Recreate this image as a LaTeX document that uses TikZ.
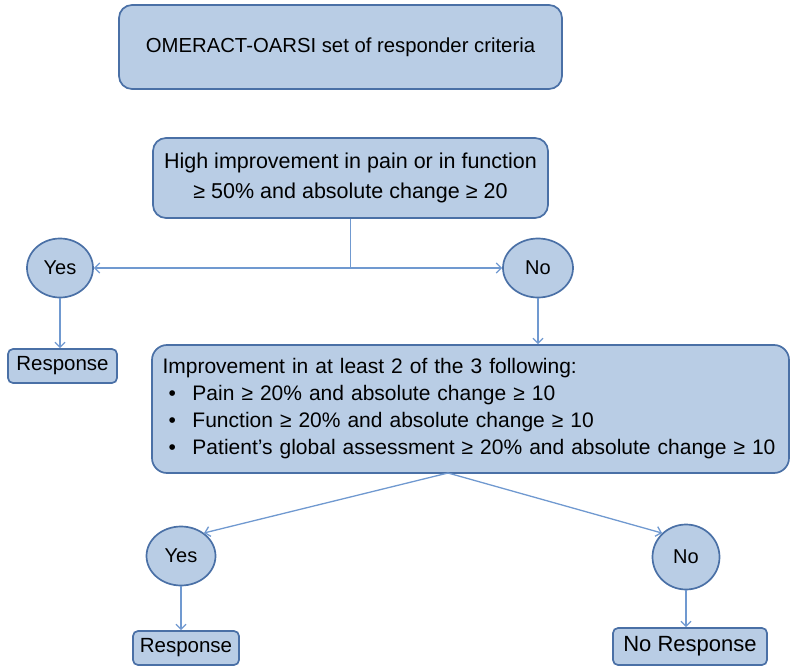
\documentclass[tikz,border=0pt]{standalone}
\usepackage{fontspec}
\setmainfont{Liberation Sans}
\usepackage{xcolor}
\usepackage{tikz}
\usetikzlibrary{arrows.meta,positioning,shapes.geometric,calc}
\definecolor{boxfill}{RGB}{185,205,229}
\definecolor{boxline}{RGB}{74,112,166}
\definecolor{arrline}{RGB}{112,153,208}
\newcommand{\bul}{\makebox[30pt][l]{\hspace{6pt}\textbullet}}

\begin{document}
\begin{tikzpicture}[x=1pt,y=-1pt,
  box/.style={rectangle,rounded corners=13pt,draw=boxline,line width=1.7pt,fill=boxfill,inner sep=0pt,font=\fontsize{21.5}{30}\selectfont},
  dec/.style={ellipse,draw=boxline,line width=1.7pt,fill=boxfill,inner sep=0pt,font=\fontsize{20}{24}\selectfont},
  res/.style={rectangle,rounded corners=5pt,draw=boxline,line width=1.7pt,fill=boxfill,inner sep=0pt,font=\fontsize{20.5}{24}\selectfont},
  link/.style={-{Straight Barb[length=5pt,width=10pt]},draw=arrline,line width=1.3pt}]
  \useasboundingbox (0,0) rectangle (790,666);
  % boxes
  \node[box,minimum width=443pt,minimum height=84pt,font=\fontsize{20.3}{24}\selectfont] (title) at (340.5,47)
    {OMERACT-OARSI set of responder criteria};
  \node[box,minimum width=395pt,minimum height=80pt,align=center] (high) at (350.5,178)
    {High improvement in pain or in function\\ ≥ 50\% and absolute change ≥ 20};
  \node[box,rounded corners=15pt,minimum width=637pt,minimum height=128pt,text width=622pt,align=left,
    font=\fontsize{21}{27}\selectfont] (crit) at (470.5,409)
    {\hspace*{3pt}Improvement in at least 2 of the 3 following:\\
     \hspace*{3pt}\bul Pain ≥ 20\% and absolute change ≥ 10\\
     \hspace*{3pt}\bul Function ≥ 20\% and absolute change ≥ 10\\
     \hspace*{3pt}\bul Patient's global assessment ≥ 20\% and absolute change ≥ 10};
  % decisions
  \node[dec,minimum width=66pt,minimum height=59pt] (yes1) at (60,268) {Yes};
  \node[dec,minimum width=70pt,minimum height=59pt] (no1) at (538,268) {No};
  \node[dec,minimum width=69pt,minimum height=59pt] (yes2) at (181,556) {Yes};
  \node[dec,minimum width=67pt,minimum height=65pt] (no2) at (686,557) {No};
  % outcomes
  \node[res,minimum width=109pt,minimum height=34pt] (resp1) at (62.5,366) {Response};
  \node[res,minimum width=106pt,minimum height=34pt] (resp2) at (186,648) {Response};
  \node[res,minimum width=154pt,minimum height=37pt,font=\fontsize{22}{26}\selectfont] (noresp) at (690,646.5) {No Response};
  % connectors
  \coordinate (split) at (350.5,268);
  \coordinate (fork) at (448,473);
  \draw[link,-] (high.south) -- (split);
  \draw[link] (split) -- (yes1.east);
  \draw[link] (split) -- (no1.west);
  \draw[link] (yes1.south) -- (yes1.south |- resp1.north);
  \draw[link] (no1.south) -- (no1.south |- crit.north);
  \draw[link] (fork) -- (yes2.45);
  \draw[link] (fork) -- (no2.135);
  \draw[link] (yes2.south) -- (yes2.south |- resp2.north);
  \draw[link] (no2.south) -- (no2.south |- noresp.north);
\end{tikzpicture}
\end{document}
